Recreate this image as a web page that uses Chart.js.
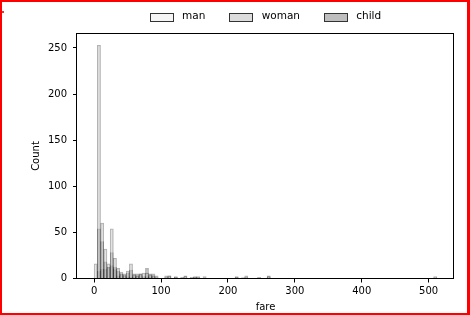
<!DOCTYPE html>
<html><head><meta charset="utf-8">
<script src="https://cdn.jsdelivr.net/npm/chart.js@4"></script>
<style>
html,body{margin:0;padding:0;background:#fff;}
#wrap{position:relative;width:470px;height:315px;overflow:hidden;}
#frame{position:absolute;left:0;top:0;width:470px;height:315px;box-sizing:border-box;border-style:solid;border-color:#f00;border-width:2px 3px 2px 2px;pointer-events:none;}
#mark{position:absolute;left:2px;top:11px;width:2px;height:2px;background:#e33;}
</style></head><body>
<div id="wrap"><canvas id="c" width="470" height="315"></canvas><div id="frame"></div><div id="mark"></div></div>
<script>
// ---- data ----
const categories = ['man', 'woman', 'child'];
const fareMin = 0;
const fareMax = 512.3292;
const binCount = 107;
// counts per fare bin (bin 0 .. 106)
const manCounts = [16,253,60,32,16,54,22,11,7,5,8,16,4,3,5,6,6,4,3,1,0,0,1,3,0,1,0,1,2,0,1,1,1,0,0,0,0,0,0,0,0,0,0,0,1,0,1,1,0,0,0,1,0,0,2,0,0,0,0,0,0,0,0,0,0,0,0,0,0,0,0,0,0,0,0,0,0,0,0,0,0,0,0,0,0,0,0,0,0,0,0,0,0,0,0,0,0,0,0,0,0,0,0,0,0,0,2];
const womanCounts = [0,54,40,18,12,28,12,8,5,3,6,9,5,5,5,2,11,5,5,3,0,0,3,3,0,2,0,1,3,0,1,2,2,0,2,0,0,0,0,0,0,0,0,0,2,0,0,3,0,0,0,1,0,0,3,0,0,0,0,0,0,0,0,0,0,0,0,0,0,0,0,0,0,0,0,0,0,0,0,0,0,0,0,0,0,0,0,0,0,0,0,0,0,0,0,0,0,0,0,0,0,0,0,0,0,0,1];
const childCounts = [0,8,10,10,12,14,10,3,5,4,2,1,2,2,4,0,2,2,2,0,0,0,0,1,0,1,0,0,0,0,0,1,0,0,0,0,0,0,0,0,0,0,0,0,1,0,0,0,0,0,0,0,0,0,1,0,0,0,0,0,0,0,0,0,0,0,0,0,0,0,0,0,0,0,0,0,0,0,0,0,0,0,0,0,0,0,0,0,0,0,0,0,0,0,0,0,0,0,0,0,0,0,0,0,0,0,0];
const xTicks = [0, 100, 200, 300, 400, 500];
const yTicks = [0, 50, 100, 150, 200, 250];

// ---- build ----
const binW = (fareMax - fareMin) / binCount;
const toPoints = arr => arr.map((c, i) => ({x: fareMin + (i + 0.5) * binW, y: c}));
const fills = ['rgba(235,235,235,0.5)', 'rgba(185,185,185,0.5)', 'rgba(125,125,125,0.5)'];
const legendFills = ['#f5f5f5', '#dcdcdc', '#bebebe'];
const series = [manCounts, womanCounts, childCounts];
const xPad = (fareMax - fareMin) * 0.05;
const yMax = Math.max(...manCounts, ...womanCounts, ...childCounts) * 1.05;

const FONT = 'DejaVu Sans';
Chart.defaults.font.family = FONT;
Chart.defaults.color = '#000';

const framePlugin = {
  id: 'frame',
  afterDatasetsDraw(chart) {
    const {ctx, chartArea: ca} = chart;
    ctx.save();
    ctx.strokeStyle = '#000';
    ctx.lineWidth = 1;
    const l = Math.round(ca.left) - 0.5, t = Math.round(ca.top) - 0.5;
    const r = Math.round(ca.right) - 0.5, b = Math.round(ca.bottom) - 0.5;
    ctx.strokeRect(l, t, r - l, b - t);
    ctx.restore();
  },
  afterDraw(chart) {
    // legend swatches (23x8), drawn at each legend item's hit box
    const lg = chart.legend;
    if (!lg || !lg.legendHitBoxes) return;
    const ctx = chart.ctx;
    ctx.save();
    lg.legendHitBoxes.forEach((hb, i) => {
      const x = Math.round(hb.left) + 0.5;
      const y = Math.round(hb.top + hb.height / 2 - 4) + 0.5;
      ctx.fillStyle = legendFills[i];
      ctx.fillRect(x, y, 23, 8);
      ctx.strokeStyle = '#333';
      ctx.lineWidth = 1;
      ctx.strokeRect(x, y, 23, 8);
    });
    ctx.restore();
  }
};

new Chart(document.getElementById('c'), {
  type: 'bar',
  data: {
    datasets: categories.map((name, k) => ({
      label: name,
      data: toPoints(series[k]),
      backgroundColor: fills[k],
      borderColor: 'rgba(0,0,0,0.3)',
      borderWidth: 1,
      barPercentage: 1,
      categoryPercentage: 1,
      grouped: false
    }))
  },
  options: {
    responsive: false,
    animation: false,
    events: [],
    layout: {padding: {top: -12.5, right: 16, bottom: 0, left: 0}},
    plugins: {
      tooltip: {enabled: false},
      legend: {
        position: 'top', fullSize: false, align: 'center',
        labels: {
          boxWidth: 27, boxHeight: 8, padding: 24,
          font: {family: FONT, size: 10.5}, color: '#000',
          generateLabels: chart => chart.data.datasets.map((ds, i) => ({
            text: ds.label, fillStyle: 'rgba(0,0,0,0)', strokeStyle: 'rgba(0,0,0,0)',
            lineWidth: 0, hidden: false, datasetIndex: i
          }))
        }
      }
    },
    scales: {
      x: {
        type: 'linear', position: 'bottom', offset: false,
        min: fareMin - xPad, max: fareMax + xPad,
        afterBuildTicks: s => { s.ticks = xTicks.map(v => ({value: v})); },
        afterFit: s => { s.height = 36.5; },
        grid: {display: true, offset: false, drawOnChartArea: false, drawTicks: true, tickLength: 4, color: '#000'},
        border: {display: false},
        ticks: {padding: 3, font: {size: 10}, color: '#000', maxRotation: 0, autoSkip: false},
        title: {display: true, text: 'fare', font: {size: 10}, color: '#000', padding: {top: 0, bottom: 2}}
      },
      xTop: {
        type: 'linear', position: 'top', display: true, offset: false,
        grid: {display: false}, border: {display: false}, ticks: {display: false},
        afterFit: s => { s.height = 1.55; }
      },
      y: {
        type: 'linear', position: 'left',
        min: 0, max: yMax,
        afterBuildTicks: s => { s.ticks = yTicks.map(v => ({value: v})); },
        afterFit: s => { s.width = 77; },
        grid: {display: true, drawOnChartArea: false, drawTicks: true, tickLength: 4, color: '#000'},
        border: {display: false},
        ticks: {padding: 6, font: {size: 10}, color: '#000'},
        title: {display: true, text: 'Count', font: {size: 10}, color: '#000', padding: {top: 30.7, bottom: 0}}
      }
    }
  },
  plugins: [framePlugin]
});
</script>
</body></html>
